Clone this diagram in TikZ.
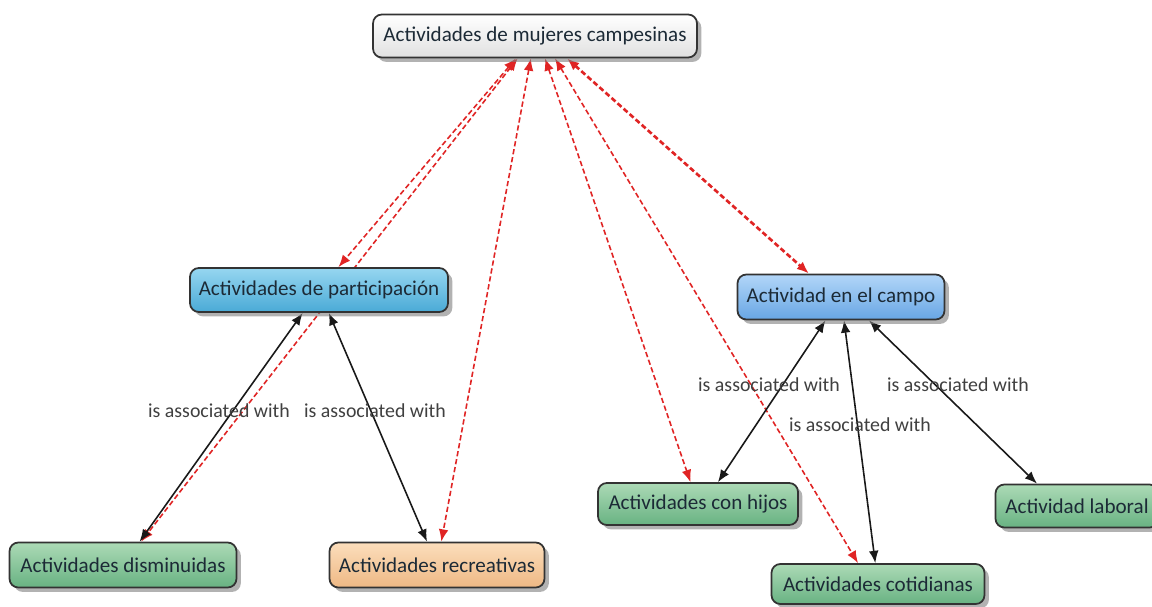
\documentclass[tikz,border=0pt]{standalone}
\usepackage{fontspec}
\setmainfont{Carlito}
\usetikzlibrary{arrows.meta,shadows,backgrounds,calc}
\definecolor{linkred}{HTML}{E02424}
\definecolor{boxtext}{HTML}{1C2A36}
\tikzset{
  box/.style={draw=black!80, line width=1pt, rounded corners=5pt,
    font=\fontsize{12}{14}\selectfont, text=boxtext, inner sep=2pt,
    drop shadow={shadow xshift=2.5pt, shadow yshift=-2.5pt, fill=black!50, opacity=0.6}},
  graybox/.style={box, top color=white, bottom color=black!12},
  partbox/.style={box, top color={rgb,255:red,150;green,214;blue,240}, bottom color={rgb,255:red,74;green,170;blue,214}},
  campobox/.style={box, top color={rgb,255:red,178;green,214;blue,248}, bottom color={rgb,255:red,104;green,166;blue,228}},
  greenbox/.style={box, top color={rgb,255:red,172;green,218;blue,182}, bottom color={rgb,255:red,104;green,178;blue,130}},
  orangebox/.style={box, top color={rgb,255:red,252;green,222;blue,188}, bottom color={rgb,255:red,238;green,184;blue,132}},
  rlink/.style={draw=linkred, line width=0.9pt, dash pattern=on 3pt off 1.6pt,
    arrows={Latex[length=7pt,width=5.5pt]-Latex[length=7pt,width=5.5pt]}},
  blink/.style={draw=black!90, line width=0.9pt,
    arrows={Latex[length=7pt,width=5.5pt]-Latex[length=7pt,width=5.5pt]}},
  lab/.style={font=\fontsize{11.3}{13}\selectfont, text=black!75, inner sep=0pt}
}
\begin{document}
\begin{tikzpicture}[x=0.02cm,y=-0.02cm]
\useasboundingbox (0,0) rectangle (1152,606);

\node[graybox, minimum width=6.48cm, minimum height=0.86cm] (top) at (535,36) {Actividades de mujeres campesinas};
\node[partbox, minimum width=5.16cm, minimum height=0.88cm] (part) at (319,290) {Actividades de participación};
\node[campobox, minimum width=4.14cm, minimum height=0.9cm] (campo) at (841,297) {Actividad en el campo};
\node[greenbox, minimum width=4.54cm, minimum height=0.9cm] (dism) at (123,565) {Actividades disminuidas};
\node[orangebox, minimum width=4.3cm, minimum height=0.9cm] (rec) at (437,565) {Actividades recreativas};
\node[greenbox, minimum width=4.0cm, minimum height=0.84cm] (hijos) at (698,504) {Actividades con hijos};
\node[greenbox, minimum width=4.26cm, minimum height=0.8cm] (coti) at (878,584) {Actividades cotidianas};
\node[greenbox, minimum width=3.26cm, minimum height=0.86cm] (labo) at (1077,506) {Actividad laboral};

\node[lab] (l1) at (219,411) {is associated with};
\node[lab] (l2) at (375,411) {is associated with};
\node[lab] (l3) at (769,385) {is associated with};
\node[lab] (l4) at (958,385) {is associated with};
\node[lab] (l5) at (860,425) {is associated with};

\begin{pgfonlayer}{background}
\fill[white] (0,0) rectangle (1152,606);
\draw[rlink] (top) -- (part);
\draw[rlink] (top) -- (dism);
\draw[rlink] (top) -- (rec);
\draw[rlink] ($(top.south)+(10,0)$) -- (hijos);
\draw[rlink] ($(top.south)+(20,0)$) -- ($(coti.north)+(-20,0)$);
\draw[rlink, line width=1.5pt] ($(top.south)+(32,0)$) -- ($(campo.north)+(-32,0)$);
\draw[blink] (part) -- (dism);
\draw[blink] (part) -- (rec);
\draw[blink] (campo) -- ($(hijos.north)+(20,0)$);
\draw[blink] (campo) -- (coti);
\draw[blink] ($(campo.south)+(28,0)$) -- ($(labo.north)+(-40,0)$);
\end{pgfonlayer}
\end{tikzpicture}
\end{document}
